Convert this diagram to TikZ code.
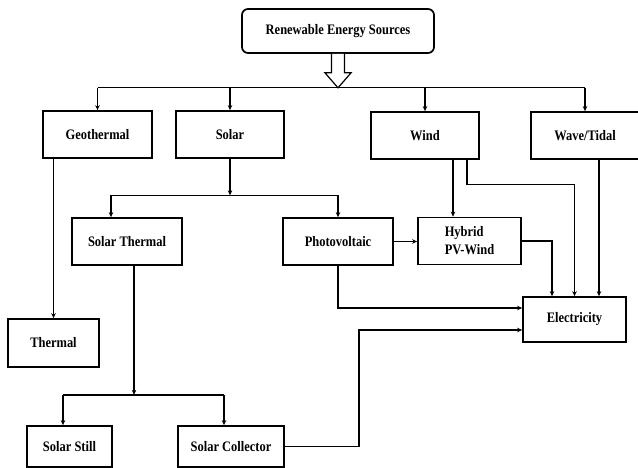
\documentclass[tikz,border=0pt]{standalone}
\usepackage{fontspec}
\setmainfont{Liberation Serif}[FakeStretch=0.86]
\usetikzlibrary{arrows.meta, calc}

\begin{document}
\begin{tikzpicture}[x=1pt, y=-1pt, >={Stealth[length=5pt, width=4.5pt]},
  every node/.style={font=\fontsize{14.5}{18}\selectfont\bfseries},
  box/.style={draw, line width=1.7pt, inner sep=0pt, minimum height=47pt},
  link/.style={line width=1.3pt}]
\useasboundingbox (0,0) rectangle (638,468);

% sources
\node[box, rounded corners=6pt, minimum width=192pt, minimum height=44pt] (res) at (338,31) {Renewable Energy Sources};
\node[box, minimum width=109pt] (geo)   at (97.5,134.5) {Geothermal};
\node[box, minimum width=108pt] (solar) at (230,134.5)  {Solar};
\node[box, minimum width=108pt] (wind)  at (425,135.5)  {Wind};
\node[box, minimum width=108pt] (wave)  at (585,135.5)  {Wave/Tidal};

% conversion
\node[box, minimum width=110pt] (sth)  at (127,241.5)   {Solar Thermal};
\node[box, minimum width=110pt] (pv)   at (338,241.5)   {Photovoltaic};
\node[box, minimum width=103pt, align=left] (hyb) at (469.5,241) {Hybrid\\PV-Wind};
\node[box, minimum width=103pt, minimum height=45pt] (elec) at (574.5,319.5) {Electricity};
\node[box, minimum width=91pt, minimum height=48pt] (thermal) at (53.5,343) {Thermal};
\node[box, minimum width=85pt, minimum height=41pt] (still) at (69.5,446.5) {Solar Still};
\node[box, minimum width=106pt, minimum height=41pt] (coll) at (231,446.5) {Solar Collector};

% hollow arrow and top bus
\draw[line width=1.2pt, fill=white] ($(res.south)+(-6.5,0)$) -- ++(0,19) -- ++(-6.5,0)
  -- ++(13,15) -- ++(13,-15) -- ++(-6.5,0) -- ++(0,-19);
\coordinate (bus) at ($(res.south)+(0,34)$);
\draw[link] (geo.north |- bus) -- (wave.north |- bus);
\foreach \n in {geo,solar,wind,wave}
  \draw[link,->] (\n.north |- bus) -- (\n.north);

% solar branch
\coordinate (sbus) at ($(solar.south)+(0,36.5)$);
\draw[link,->] (solar.south) -- (sbus);
\draw[link] ([xshift=-16pt]sth.north |- sbus) -- (pv.north |- sbus);
\draw[link,->] ([xshift=-16pt]sth.north |- sbus) -- ([xshift=-16pt]sth.north);
\draw[link,->] (pv.north |- sbus) -- (pv.north);

\coordinate (tbus) at ($(sth.south)+(7,129)$);
\draw[link,->] ([xshift=7pt]sth.south) -- (tbus);
\draw[link] ([xshift=-6.5pt]still.north |- tbus) -- ([xshift=-7pt]coll.north |- tbus);
\draw[link,->] ([xshift=-6.5pt]still.north |- tbus) -- ([xshift=-6.5pt]still.north);
\draw[link,->] ([xshift=-7pt]coll.north |- tbus) -- ([xshift=-7pt]coll.north);

\draw[link,->] (thermal.north |- geo.south) -- (thermal.north);

% to electricity
\draw[link,->] ([xshift=28pt]wind.south) -- ([xshift=28pt]wind.south |- hyb.north);
\draw[link,->] ([xshift=42pt]wind.south) -- ++(0,25) -| (elec.north);
\draw[link,->] ([xshift=14pt]wave.south) -- ([xshift=14pt]wave.south |- elec.north);
\draw[link,->] (pv.east) -- (pv.east -| hyb.west);
\draw[link,->] (hyb.east) -| ([xshift=-22.5pt]elec.north);
\draw[link,->] (pv.south) |- ([yshift=11.5pt]elec.west);
\draw[link,->] (coll.east) -- ++(74,0) |- ([yshift=-10.5pt]elec.west);
\end{tikzpicture}
\end{document}
